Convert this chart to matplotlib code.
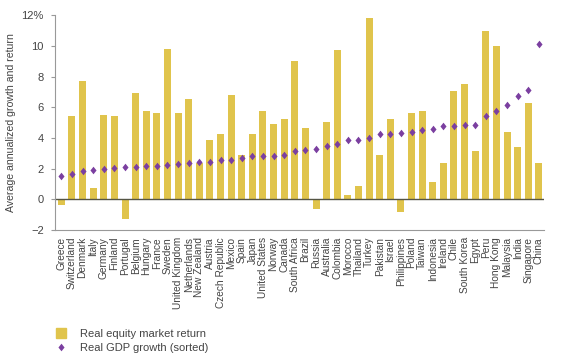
import matplotlib.pyplot as plt
from matplotlib.lines import Line2D

plt.rcParams['font.family'] = ['Liberation Sans', 'DejaVu Sans']

# Countries, sorted by real GDP growth
countries = ['Greece', 'Switzerland', 'Denmark', 'Italy', 'Germany', 'Finland',
             'Portugal', 'Belgium', 'Hungary', 'France', 'Sweden', 'United Kingdom',
             'Netherlands', 'New Zealand', 'Austria', 'Czech Republic', 'Mexico',
             'Spain', 'Japan', 'United States', 'Norway', 'Canada', 'South Africa',
             'Brazil', 'Russia', 'Australia', 'Colombia', 'Morocco', 'Thailand',
             'Turkey', 'Pakistan', 'Israel', 'Philippines', 'Poland', 'Taiwan',
             'Indonesia', 'Ireland', 'Chile', 'South Korea', 'Egypt', 'Peru',
             'Hong Kong', 'Malaysia', 'India', 'Singapore', 'China']

equity_return = [-0.4, 5.4, 7.7, 0.75, 5.47, 5.45, -1.3, 6.92, 5.77, 5.6, 9.8, 5.62,
                 6.55, 2.38, 3.85, 4.28, 6.77, 2.92, 4.28, 5.77, 4.9, 5.25, 9.0,
                 4.65, -0.6, 5.04, 9.73, 0.26, 0.86, 11.78, 2.92, 5.25, -0.82, 5.62,
                 5.73, 1.15, 2.36, 7.03, 7.5, 3.18, 10.96, 10.0, 4.37, 3.44, 6.25,
                 2.36]

gdp_growth = [1.51, 1.66, 1.82, 1.9, 1.99, 2.05, 2.12, 2.12, 2.14, 2.16, 2.23, 2.31,
              2.34, 2.4, 2.44, 2.57, 2.59, 2.72, 2.81, 2.83, 2.85, 2.9, 3.16, 3.22,
              3.31, 3.5, 3.61, 3.85, 3.89, 3.98, 4.26, 4.28, 4.34, 4.41, 4.54, 4.56,
              4.76, 4.8, 4.86, 4.84, 5.4, 5.75, 6.16, 6.7, 7.13, 10.12]

yticks = [-2, 0, 2, 4, 6, 8, 10, 12]
ytick_labels = ['\u22122', '0', '2', '4', '6', '8', '10', '12%']

gold = '#E0C44C'
purple = '#7B3FA0'
text_col = '#444444'
# diamond a bit taller than wide
diamond = [(0, 1), (0.8, 0), (0, -1), (-0.8, 0), (0, 1)]

fig = plt.figure(figsize=(5.88, 3.6), dpi=100)
ax = fig.add_axes([0.0935, 0.361, 0.832, 0.597])

x = range(len(countries))
ax.bar(x, equity_return, width=0.66, color=gold, zorder=2)
ax.plot(x, gdp_growth, linestyle='none', marker=diamond, markersize=5.5,
        color=purple, markeredgewidth=0, zorder=3)
ax.axhline(0, color='#555544', linewidth=1, zorder=2.5)

ax.set_xlim(-0.6, len(countries) - 0.5)
ax.set_ylim(-2, 12)
ax.set_yticks(yticks)
ax.set_yticklabels(ytick_labels)
ax.set_xticks(list(x))
ax.set_xticklabels(countries, rotation=90, fontsize=7.3, color=text_col)
ax.tick_params(axis='x', length=0, pad=5)
ax.tick_params(axis='y', length=3, color='#999999', labelsize=8,
               labelcolor=text_col, pad=5)

for side in ['top', 'right']:
    ax.spines[side].set_visible(False)
ax.spines['left'].set_color('#999999')
ax.spines['bottom'].set_color('#999999')

ax.set_ylabel('Average annualized growth and return', fontsize=7.6,
              color=text_col, labelpad=4)

handles = [
    Line2D([], [], linestyle='none', marker='s', markersize=7, color=gold),
    Line2D([], [], linestyle='none', marker=diamond, markersize=5.5, color=purple,
           markeredgewidth=0),
]
fig.legend(handles, ['Real equity market return', 'Real GDP growth (sorted)'],
           loc='upper left', bbox_to_anchor=(0.078, 0.098), frameon=False,
           fontsize=8, labelcolor=text_col, handletextpad=0.7,
           labelspacing=0.35, borderaxespad=0)

fig.savefig('out.png', dpi=100)
